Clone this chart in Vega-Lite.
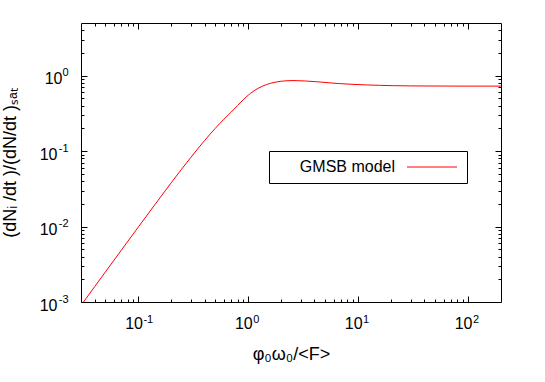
{
  "$schema": "https://vega.github.io/schema/vega-lite/v6.json",
  "width": 420,
  "height": 279,
  "autosize": {"type": "none"},
  "padding": {"left": 81, "top": 23, "right": 44, "bottom": 80},
  "background": "white",
  "config": {
    "font": "Liberation Sans",
    "view": {"stroke": "black", "strokeWidth": 1},
    "axis": {"grid": false, "domain": false, "tickColor": "black", "tickWidth": 1, "labelColor": "black", "titleColor": "black", "labelFont": "Liberation Sans", "titleFont": "Liberation Sans", "titleFontWeight": "normal", "labelOverlap": false, "labelBound": false, "labelFlush": false, "zindex": 1}
  },
  "datasets": {
    "curve": [
      {"x": 0.0316, "y": 0.000999},
      {"x": 0.04, "y": 0.0016},
      {"x": 0.05, "y": 0.0025},
      {"x": 0.07, "y": 0.00488},
      {"x": 0.1, "y": 0.0099},
      {"x": 0.15, "y": 0.022},
      {"x": 0.2, "y": 0.0385},
      {"x": 0.3, "y": 0.0826},
      {"x": 0.4, "y": 0.138},
      {"x": 0.5, "y": 0.2},
      {"x": 0.6, "y": 0.265},
      {"x": 0.7, "y": 0.33},
      {"x": 0.8, "y": 0.403},
      {"x": 0.9, "y": 0.48},
      {"x": 1.0, "y": 0.552},
      {"x": 1.05, "y": 0.585},
      {"x": 1.15, "y": 0.643},
      {"x": 1.25, "y": 0.69},
      {"x": 1.35, "y": 0.728},
      {"x": 1.46, "y": 0.762},
      {"x": 1.6, "y": 0.795},
      {"x": 1.8, "y": 0.826},
      {"x": 2.0, "y": 0.845},
      {"x": 2.2, "y": 0.856},
      {"x": 2.5, "y": 0.862},
      {"x": 2.8, "y": 0.86},
      {"x": 3.3, "y": 0.851},
      {"x": 4.2, "y": 0.832},
      {"x": 5.5, "y": 0.805},
      {"x": 6.8, "y": 0.786},
      {"x": 9.0, "y": 0.768},
      {"x": 12, "y": 0.755},
      {"x": 16, "y": 0.745},
      {"x": 21, "y": 0.738},
      {"x": 30, "y": 0.733},
      {"x": 50, "y": 0.73},
      {"x": 100, "y": 0.728},
      {"x": 200, "y": 0.728}
    ]
  },
  "data": {"name": "curve"},
  "layer": [
    {
      "mark": {"type": "line", "strokeWidth": 1, "clip": true, "interpolate": "monotone"},
      "encoding": {
        "x": {"field": "x", "type": "quantitative",
          "scale": {"type": "log", "domain": [0.03, 200], "nice": false},
          "axis": {"orient": "bottom", "title": "φ₀ω₀/<F>", "titleFontSize": 18, "titlePadding": 11,
            "values": [0.04,0.05,0.06,0.07,0.08,0.09,0.1,0.2,0.3,0.4,0.5,0.6,0.7,0.8,0.9,1,2,3,4,5,6,7,8,9,10,20,30,40,50,60,70,80,90,100],
            "labelExpr": "abs(log(datum.value)/LN10 - round(log(datum.value)/LN10)) < 1e-6 ? '10' : ''",
            "labelFontSize": 16, "labelAlign": "right", "labelOffset": 4, "labelBaseline": "top", "labelPadding": 19,
            "tickSize": {"condition": {"test": "abs(log(datum.value)/LN10 - round(log(datum.value)/LN10)) < 1e-6", "value": -6}, "value": -3}}},
        "y": {"field": "y", "type": "quantitative",
          "scale": {"type": "log", "domain": [0.001, 5], "nice": false},
          "axis": {"orient": "left", "title": "(dNᵢ /dt )/(dN/dt )ₛₐₜ", "titleFontSize": 18, "titlePadding": 20,
            "values": [0.002,0.003,0.004,0.005,0.006,0.007,0.008,0.009,0.01,0.02,0.03,0.04,0.05,0.06,0.07,0.08,0.09,0.1,0.2,0.3,0.4,0.5,0.6,0.7,0.8,0.9,1,2,3,4,0.001],
            "labelExpr": "abs(log(datum.value)/LN10 - round(log(datum.value)/LN10)) < 1e-6 ? '10' : ''",
            "labelFontSize": 16, "labelAlign": "right", "labelBaseline": "middle", "labelOffset": 3,
            "labelPadding": {"condition": {"test": "datum.value == 1", "value": 25}, "value": 30},
            "tickSize": {"condition": {"test": "abs(log(datum.value)/LN10 - round(log(datum.value)/LN10)) < 1e-6", "value": -6}, "value": -3}}},
        "color": {"datum": "GMSB model", "type": "nominal",
          "scale": {"range": ["#ff0000"]},
          "legend": {"orient": "none", "legendX": 188, "legendY": 128, "title": null,
            "strokeColor": "black", "padding": 8,
            "labelFontSize": 16, "labelFont": "Liberation Sans", "labelColor": "black", "labelAlign": "right",
            "symbolType": "M-5,0H5", "symbolSize": 100, "symbolStrokeWidth": 1,
            "symbolOffset": 147, "labelOffset": -45}}
      }
    },
    {
      "mark": {"type": "line", "strokeOpacity": 0},
      "encoding": {
        "x": {"field": "x", "type": "quantitative",
          "axis": {"orient": "bottom", "title": null, "values": [0.1, 1, 10, 100], "ticks": false, "tickSize": 0,
            "labelExpr": "'' + round(log(datum.value)/LN10)",
            "labelFontSize": 11, "labelAlign": "left", "labelOffset": 4.5, "labelBaseline": "top", "labelPadding": 11}},
        "y": {"field": "y", "type": "quantitative",
          "axis": {"orient": "left", "title": null, "values": [0.001, 0.01, 0.1, 1], "ticks": false, "tickSize": 0,
            "labelExpr": "'' + round(log(datum.value)/LN10)",
            "labelFontSize": 11, "labelAlign": "right", "labelBaseline": "middle", "labelOffset": -3, "labelPadding": 13}}
      }
    },
    {
      "mark": {"type": "line", "strokeOpacity": 0},
      "encoding": {
        "x": {"field": "x", "type": "quantitative",
          "axis": {"orient": "top", "title": null, "labels": false,
            "values": [0.04,0.05,0.06,0.07,0.08,0.09,0.1,0.2,0.3,0.4,0.5,0.6,0.7,0.8,0.9,1,2,3,4,5,6,7,8,9,10,20,30,40,50,60,70,80,90,100],
            "tickSize": {"condition": {"test": "abs(log(datum.value)/LN10 - round(log(datum.value)/LN10)) < 1e-6", "value": -6}, "value": -3}}},
        "y": {"field": "y", "type": "quantitative",
          "axis": {"orient": "right", "title": null, "labels": false,
            "values": [0.002,0.003,0.004,0.005,0.006,0.007,0.008,0.009,0.01,0.02,0.03,0.04,0.05,0.06,0.07,0.08,0.09,0.1,0.2,0.3,0.4,0.5,0.6,0.7,0.8,0.9,1,2,3,4],
            "tickSize": {"condition": {"test": "abs(log(datum.value)/LN10 - round(log(datum.value)/LN10)) < 1e-6", "value": -6}, "value": -3}}}
      }
    }
  ],
  "resolve": {"axis": {"x": "independent", "y": "independent"}}
}
